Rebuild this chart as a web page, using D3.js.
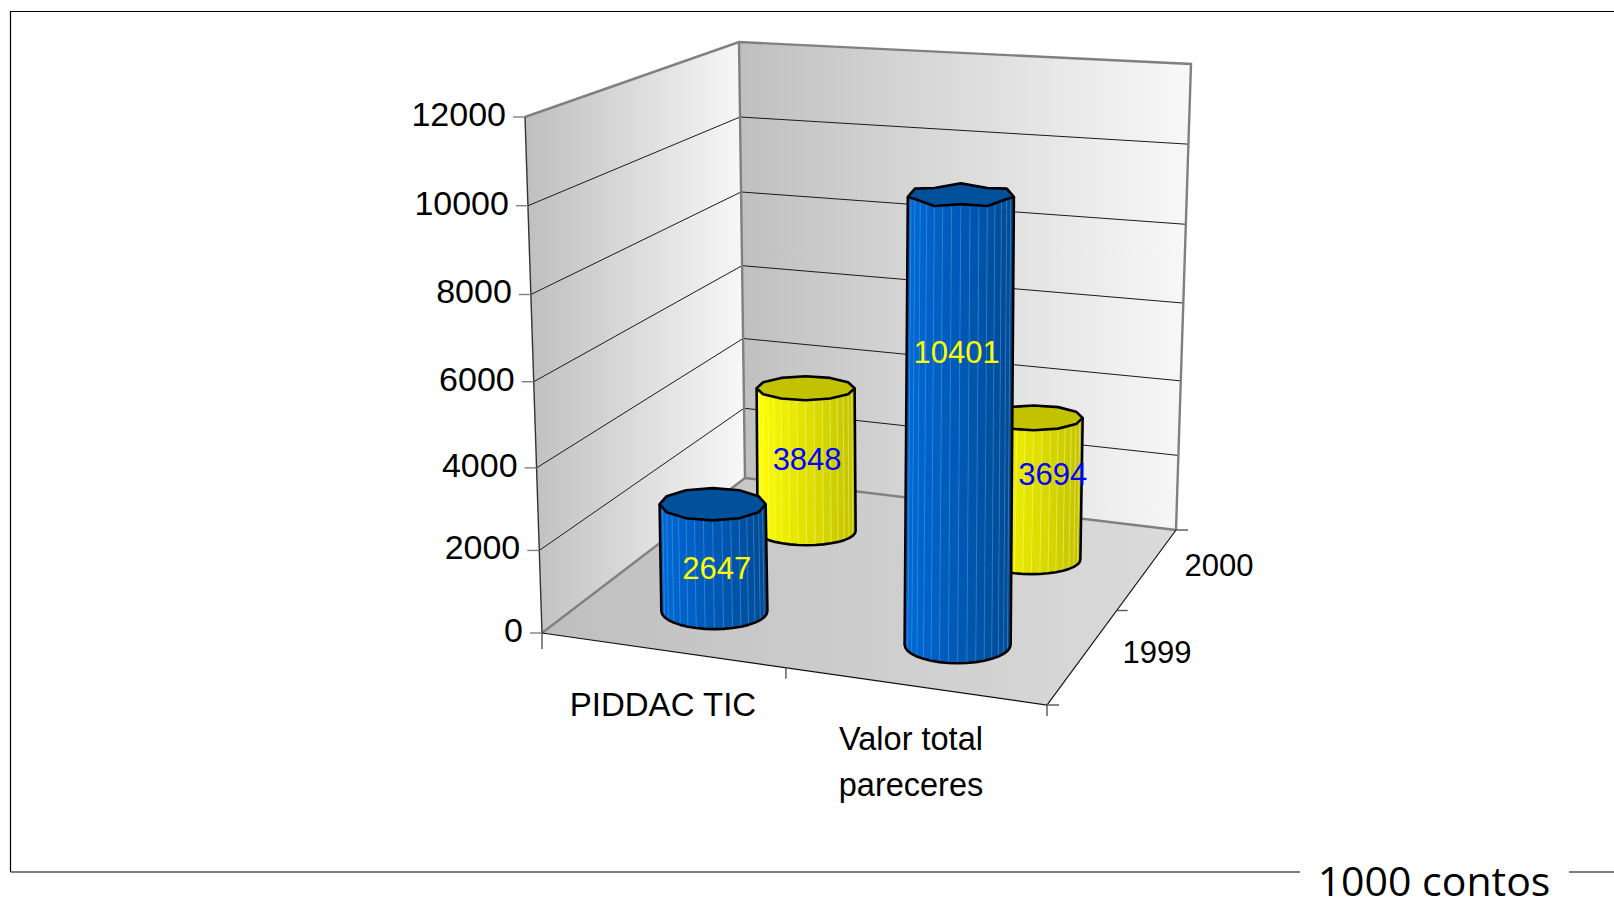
<!DOCTYPE html>
<html>
<head>
<meta charset="utf-8">
<script src="https://cdn.jsdelivr.net/npm/d3@7/dist/d3.min.js"></script>
<style>
html, body { margin: 0; padding: 0; background: #fff; overflow: hidden; }
text { font-family: "Liberation Sans", Arial, sans-serif; fill: #000; }
</style>
</head>
<body>
<svg id="chart" width="1614" height="903"></svg>
<script>
// chart values
const categories = ["PIDDAC TIC", "Valor total pareceres"];
const years = ["1999", "2000"];
const yTicks = [0, 2000, 4000, 6000, 8000, 10000, 12000];
const values1999 = [2647, 10401];
const values2000 = [3848, 3694];

const yearColors = {
    "1999": { left: "#0069d6", right: "#004a94", top: "#00509c", text: "#ffff00", line: "#5b9fe6" },
    "2000": { left: "#ffff00", right: "#c2c200", top: "#c2c200", text: "#0000ff", line: "#ffffa0" }
};

const svg = d3.select("#chart");
const width = 1614, height = 903;

// Corners of the box as seen on the screen
// f = front, b = back, l = left, r = right, bottom and top
const box = {
    fl: [542, 633], fr: [1047, 705], bl: [745, 478], br: [1176, 530],
    flTop: [525, 117], frTop: [1055, 155], blTop: [739, 42], brTop: [1191, 64]
};

// The value axis is a little compressed toward the bottom because of the perspective
const heightScale = d3.scaleLinear()
    .domain(yTicks)
    .range([0, 0.16, 0.32, 0.487, 0.656, 0.828, 1]);

const uScale = d3.scaleBand().domain(categories).range([0, 1]);
const vScale = d3.scaleBand().domain(years).range([0, 1]);

const mix = (a, b, t) => [a[0] + (b[0] - a[0]) * t, a[1] + (b[1] - a[1]) * t];

// Box coordinates (u along categories, v along years, value up) to screen
function project(u, v, value) {
    const t = heightScale(value);
    const floor = mix(mix(box.fl, box.fr, u), mix(box.bl, box.br, u), v);
    const top = mix(mix(box.flTop, box.frTop, u), mix(box.blTop, box.brTop, u), v);
    return mix(floor, top, t);
}

const polyLine = d3.line().curve(d3.curveLinearClosed);
const openLine = d3.line();

// Gradients for walls and floor
const defs = svg.append("defs");
function addGradient(id, x1, x2, from, to) {
    const g = defs.append("linearGradient")
        .attr("id", id)
        .attr("gradientUnits", "userSpaceOnUse")
        .attr("x1", x1).attr("x2", x2).attr("y1", 0).attr("y2", 0);
    g.append("stop").attr("offset", "0%").attr("stop-color", from);
    g.append("stop").attr("offset", "100%").attr("stop-color", to);
}
addGradient("leftWall", 530, 742, "#c0c0c0", "#f7f7f7");
addGradient("backWall", 742, 1180, "#c0c0c0", "#f7f7f7");
addGradient("floor", 545, 1176, "#bfbfbf", "#dbdbdb");

// Frame around the slide
const frame = svg.append("g").attr("stroke", "#000").attr("stroke-width", 1.2).attr("fill", "none");
frame.append("path").attr("d", "M10.5,872V11.5H1614");
frame.append("path").attr("d", "M10.5,872H1300");
frame.append("path").attr("d", "M1569,872H1614");

// Floor and walls
svg.append("path")
    .attr("d", polyLine([box.fl, box.bl, box.br, box.fr]))
    .attr("fill", "url(#floor)");
svg.append("path")
    .attr("d", polyLine([box.fl, box.bl, box.blTop, box.flTop]))
    .attr("fill", "url(#leftWall)");
svg.append("path")
    .attr("d", polyLine([box.bl, box.br, box.brTop, box.blTop]))
    .attr("fill", "url(#backWall)");

// Gridlines on both walls
yTicks.slice(1, -1).forEach(tick => {
    svg.append("path")
        .attr("d", openLine([project(0, 0, tick), project(0, 1, tick), project(1, 1, tick)]))
        .attr("fill", "none")
        .attr("stroke", "#1a1a1a")
        .attr("stroke-width", 1);
});

// Wall edges
svg.append("path")
    .attr("d", openLine([box.flTop, box.blTop, box.brTop, box.br]))
    .attr("fill", "none").attr("stroke", "#808080").attr("stroke-width", 2.4);
svg.append("path")
    .attr("d", openLine([box.blTop, box.bl]))
    .attr("fill", "none").attr("stroke", "#808080").attr("stroke-width", 2.4);
svg.append("path")
    .attr("d", openLine([box.fl, box.bl, box.br]))
    .attr("fill", "none").attr("stroke", "#808080").attr("stroke-width", 2.4);

// Front axes
svg.append("path")
    .attr("d", openLine([box.flTop, box.fl]))
    .attr("fill", "none").attr("stroke", "#333").attr("stroke-width", 1.4);
svg.append("path")
    .attr("d", openLine([box.fl, box.fr, box.br]))
    .attr("fill", "none").attr("stroke", "#111").attr("stroke-width", 1.2);

// Value axis ticks and labels
const tickLen = 12;
yTicks.forEach(tick => {
    const p = project(0, 0, tick);
    svg.append("line")
        .attr("x1", p[0] - tickLen).attr("x2", p[0])
        .attr("y1", p[1]).attr("y2", p[1])
        .attr("stroke", "#808080").attr("stroke-width", 1.4);
    svg.append("text")
        .attr("x", p[0] - 19)
        .attr("y", p[1] - 3)
        .attr("dy", "0.35em")
        .attr("text-anchor", "end")
        .attr("font-size", 34)
        .text(tick);
});

// Category and year ticks
const tickStroke = sel => sel.attr("stroke", "#555").attr("stroke-width", 1.4);
[[box.fl, 0, 16], [mix(box.fl, box.fr, 0.483), 0, 11], [box.fr, 0, 11]].forEach(([p, dx, dy]) => {
    svg.append("line").attr("x1", p[0]).attr("x2", p[0] + dx).attr("y1", p[1]).attr("y2", p[1] + dy).call(tickStroke);
});
[[box.fr, 12], [mix(box.fr, box.br, 0.54), 11], [box.br, 12]].forEach(([p, dx]) => {
    svg.append("line").attr("x1", p[0]).attr("x2", p[0] + dx).attr("y1", p[1]).attr("y2", p[1]).call(tickStroke);
});

// Cylinder outline points on the screen
const radiusU = 0.109;
const sides = 12;

function ellipsePoints(u, v, value, from, to, count) {
    const c = project(u, v, value);
    const w = (1 - v) * (box.fr[0] - box.fl[0]) + v * (box.br[0] - box.bl[0]);
    const rx = radiusU * w;
    const ry = (11 + (c[1] - 190) * 0.02) * (1 - 0.27 * v);
    const scallop = heightScale(value) > 0.6 ? 1.6 : 0;
    return d3.range(count + 1).map(i => {
        const a = from + (to - from) * i / count;
        return [c[0] + rx * Math.cos(a), c[1] + ry * Math.sin(a) + scallop * Math.cos(a * 6)];
    });
}

function drawCylinder(year, category, value) {
    const colors = yearColors[year];
    const u = uScale(category) + uScale.bandwidth() / 2;
    const v = vScale(year) + vScale.bandwidth() / 2;
    const shade = d3.scaleLinear().domain([0, 1]).range([colors.left, colors.right]).interpolate(d3.interpolateRgb);

    // Front half of the body, sweeping from the right side to the left side
    const bottom = ellipsePoints(u, v, 0, 0, Math.PI, sides / 2 * 3);
    const top = ellipsePoints(u, v, value, 0, Math.PI, sides / 2 * 3);
    const g = svg.append("g");
    const n = bottom.length - 1;
    const xMin = d3.min(bottom, d => d[0]), xMax = d3.max(bottom, d => d[0]);
    d3.range(n).forEach(i => {
        g.append("path")
            .attr("d", polyLine([bottom[i], bottom[i + 1], top[i + 1], top[i]]))
            .attr("fill", shade(((bottom[i][0] + bottom[i + 1][0]) / 2 - xMin) / (xMax - xMin)))
            .attr("stroke", shade(((bottom[i][0] + bottom[i + 1][0]) / 2 - xMin) / (xMax - xMin)))
            .attr("stroke-width", 0.5);
    });
    // Faint facet lines
    d3.range(1, n).forEach(i => {
        g.append("line")
            .attr("x1", bottom[i][0]).attr("y1", bottom[i][1])
            .attr("x2", top[i][0]).attr("y2", top[i][1])
            .attr("stroke", colors.line)
            .attr("stroke-opacity", 0.55)
            .attr("stroke-width", 0.8);
    });

    // Outline of the body
    g.append("path")
        .attr("d", openLine([...top.slice().reverse().slice(0, 1), ...bottom.slice().reverse(), top[0]]))
        .attr("fill", "none").attr("stroke", "#000").attr("stroke-width", 2.6).attr("stroke-linejoin", "round");

    // Cap
    const cap = ellipsePoints(u, v, value, 0, 2 * Math.PI, sides).slice(0, -1);
    g.append("path")
        .attr("d", polyLine(cap))
        .attr("fill", colors.top)
        .attr("stroke", "#000").attr("stroke-width", 2.6).attr("stroke-linejoin", "round");
}

// Back row first so the front row covers it
categories.forEach((c, i) => drawCylinder("2000", c, values2000[i]));
categories.forEach((c, i) => drawCylinder("1999", c, values1999[i]));

// Value labels, placed as they sit in the picture
const labelFont = 31;
const labelSpots = [
    { year: "1999", i: 0, dx: 3, f: 0.4 },
    { year: "1999", i: 1, dx: -3, f: 0.65 },
    { year: "2000", i: 0, dx: 1, f: 0.5 },
    { year: "2000", i: 1, dx: 20, f: 0.6 }
];
labelSpots.forEach(s => {
    const value = s.year === "1999" ? values1999[s.i] : values2000[s.i];
    const u = uScale(categories[s.i]) + uScale.bandwidth() / 2;
    const v = vScale(s.year) + vScale.bandwidth() / 2;
    const p = mix(project(u, v, 0), project(u, v, value), s.f);
    svg.append("text")
        .attr("x", p[0] + s.dx)
        .attr("y", p[1])
        .attr("dy", "0.35em")
        .attr("text-anchor", "middle")
        .attr("font-size", labelFont)
        .style("fill", yearColors[s.year].text)
        .text(value);
});

// Category labels
svg.append("text").attr("x", 663).attr("y", 704).attr("dy", "0.35em")
    .attr("text-anchor", "middle").attr("font-size", 33).text(categories[0]);
const splitName = categories[1].split(" ");
[splitName.slice(0, 2).join(" "), splitName[2]].forEach((line, i) => {
    svg.append("text").attr("x", 911).attr("y", 739 + i * 46).attr("dy", "0.35em")
        .attr("text-anchor", "middle").attr("font-size", 32.5).text(line);
});

// Year labels
svg.append("text").attr("x", 1157).attr("y", 652).attr("dy", "0.35em")
    .attr("text-anchor", "middle").attr("font-size", 31).text(years[0]);
svg.append("text").attr("x", 1219).attr("y", 565).attr("dy", "0.35em")
    .attr("text-anchor", "middle").attr("font-size", 31).text(years[1]);

// Unit note in the gap of the frame
svg.append("text").attr("x", 1434).attr("y", 882).attr("dy", "0.35em")
    .attr("text-anchor", "middle").attr("font-size", 41)
    .style("font-family", '"Open Sans", sans-serif')
    .text("1000 contos");
</script>
</body>
</html>
